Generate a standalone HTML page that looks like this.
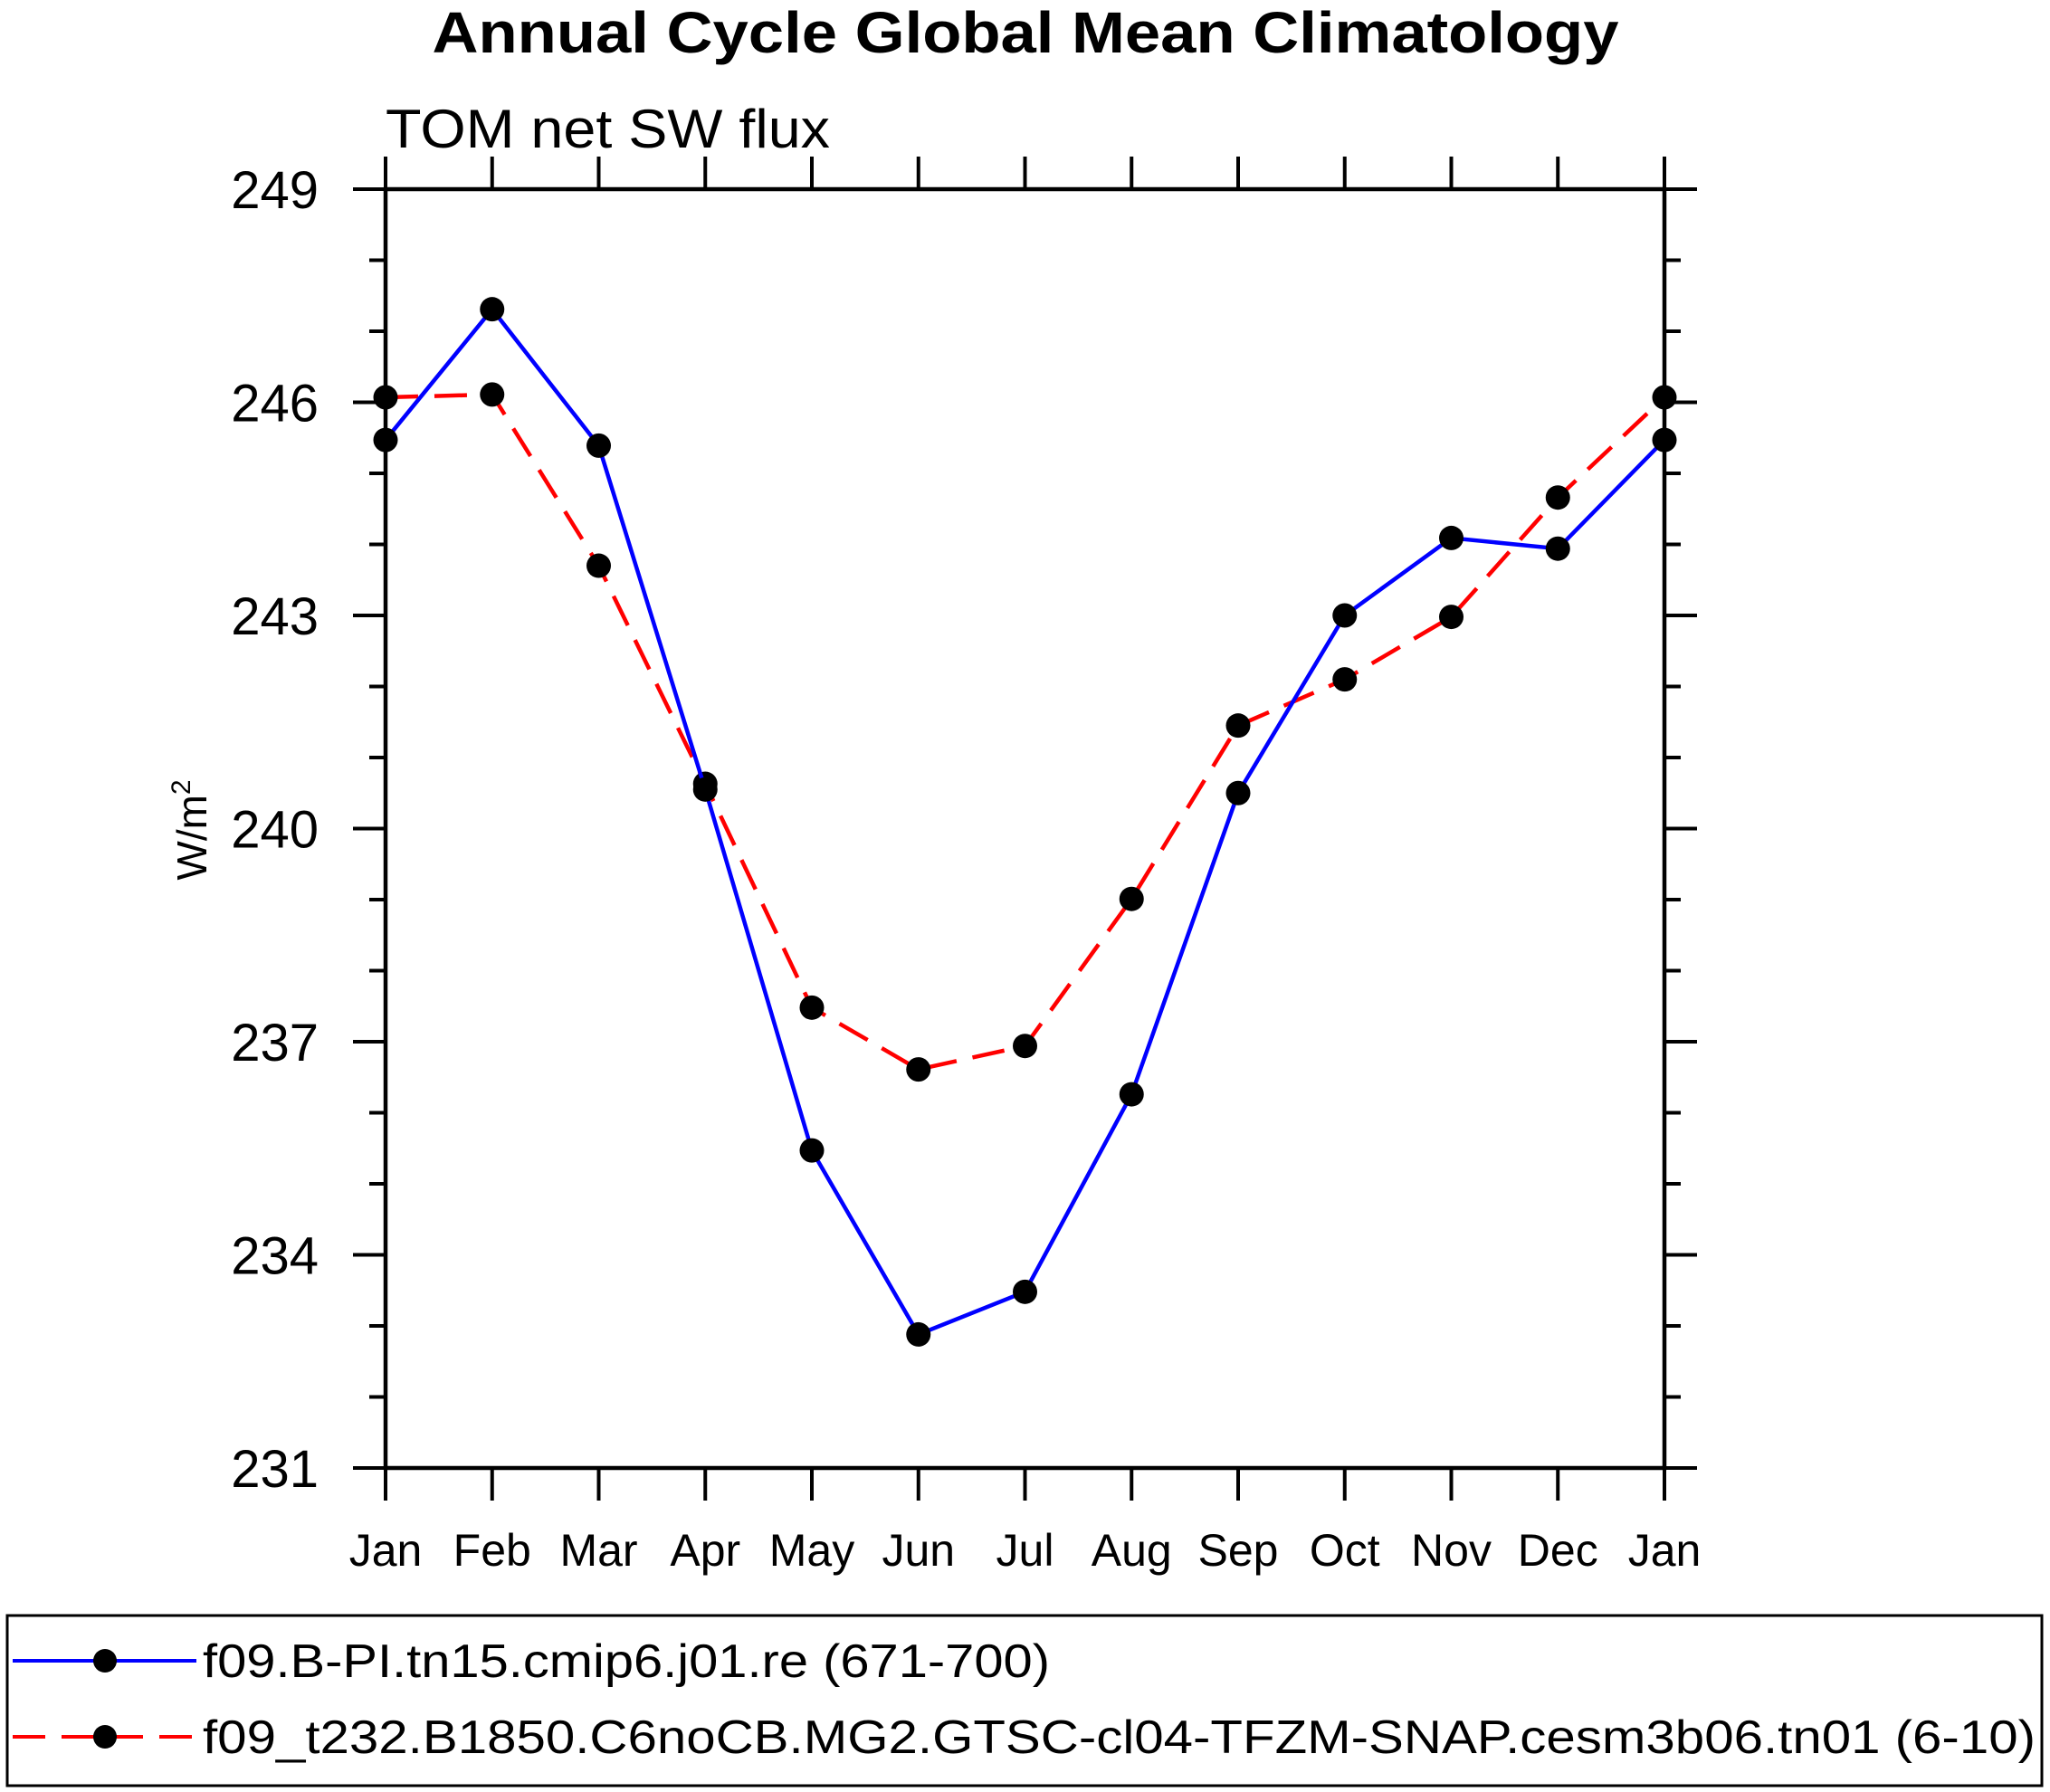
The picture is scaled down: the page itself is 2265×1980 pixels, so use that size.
<!DOCTYPE html>
<html><head><meta charset="utf-8"><style>
html,body{margin:0;padding:0;background:#fff;}
svg{display:block;font-family:"Liberation Sans",Arial,sans-serif;}
</style></head><body>
<svg id="chart" width="2265" height="1980" viewBox="0 0 2265 1980" xmlns="http://www.w3.org/2000/svg">
<text x="1133" y="58" text-anchor="middle" font-size="64" font-weight="bold" textLength="1311" lengthAdjust="spacingAndGlyphs">Annual Cycle Global Mean Climatology</text>
<text x="426" y="163" font-size="60" textLength="491" lengthAdjust="spacingAndGlyphs">TOM net SW flux</text>
<text transform="translate(228,917) rotate(-90)" text-anchor="middle" font-size="46">W/m<tspan dy="-18" font-size="30">2</tspan></text>
<g id="axes"></g>
<g id="series"></g>
<g id="legend">
<rect x="8" y="1785" width="2248" height="188" fill="none" stroke="#000" stroke-width="3"/>
<line x1="14" y1="1835" x2="217" y2="1835" stroke="#0000ff" stroke-width="4"/>
<circle cx="116" cy="1835" r="13" fill="#000"/>
<text x="224" y="1853" font-size="52" textLength="936" lengthAdjust="spacingAndGlyphs">f09.B-PI.tn15.cmip6.j01.re (671-700)</text>
<line x1="14" y1="1919" x2="217" y2="1919" stroke="#ff0000" stroke-width="4" stroke-dasharray="36,18"/>
<circle cx="116" cy="1919" r="13" fill="#000"/>
<text x="224" y="1937" font-size="52" textLength="2025" lengthAdjust="spacingAndGlyphs">f09_t232.B1850.C6noCB.MG2.GTSC-cl04-TFZM-SNAP.cesm3b06.tn01 (6-10)</text>
</g>
</svg>
<script>
const months = ["Jan","Feb","Mar","Apr","May","Jun","Jul","Aug","Sep","Oct","Nov","Dec","Jan"];
const blueValues = [245.47,247.31,245.39,240.55,235.47,232.88,233.48,236.26,240.50,243.00,244.09,243.94,245.47];
const redValues = [246.07,246.11,243.70,240.63,237.48,236.61,236.94,239.01,241.45,242.10,242.98,244.66,246.07];
const yTickLabels = [231,234,237,240,243,246,249];
const yMin = 231, yMax = 249;

const L=426,R=1839,T=209,B=1622;
const NS="http://www.w3.org/2000/svg";
function xS(i){return L+(R-L)*i/(months.length-1);}
function yS(v){return B-(B-T)*(v-yMin)/(yMax-yMin);}
function mk(tag,attrs,parent){const e=document.createElementNS(NS,tag);for(const k in attrs)e.setAttribute(k,attrs[k]);parent.appendChild(e);return e;}
const axes=document.getElementById('axes');
const series=document.getElementById('series');
const fr=mk('rect',{x:L,y:T,width:R-L,height:B-T,fill:'none',stroke:'#000','stroke-width':4.5},axes);


for(let v=yMin;v<=yMax;v++){
  const major=yTickLabels.indexOf(v)>=0;
  const len=major?36:18;
  const y=yS(v);
  const t1=mk('line',{x1:L-len,y1:y,x2:L,y2:y,stroke:'#000','stroke-width':4},axes);
  
  
  const t2=mk('line',{x1:R,y1:y,x2:R+len,y2:y,stroke:'#000','stroke-width':4},axes);
  
  
  if(major){
    const tx=mk('text',{x:352,y:y+21,'text-anchor':'end','font-size':58},axes);
    tx.textContent=v;
    
    
  }
}
months.forEach((m,i)=>{
  const x=xS(i);
  const a=mk('line',{x1:x,y1:T-36,x2:x,y2:T,stroke:'#000','stroke-width':4},axes);
  
  
  const b=mk('line',{x1:x,y1:B,x2:x,y2:B+36,stroke:'#000','stroke-width':4},axes);
  
  
  const tx=mk('text',{x:x,y:1730,'text-anchor':'middle','font-size':50},axes);
  tx.textContent=m;
  
  
});
function drawSeries(vals,color,dash,name){
  const pts=vals.map((v,i)=>xS(i)+','+yS(v)).join(' ');
  const pl=mk('polyline',{points:pts,fill:'none',stroke:color,'stroke-width':4.5},series);
  if(dash)pl.setAttribute('stroke-dasharray',dash);
  
  
  vals.forEach((v,i)=>{
    const c=mk('circle',{cx:xS(i),cy:yS(v),r:13.5,fill:'#000'},series);
    
    
  });
}
drawSeries(redValues,'#ff0000','36,18','red-series');
drawSeries(blueValues,'#0000ff',null,'blue-series');
</script>
</body></html>
